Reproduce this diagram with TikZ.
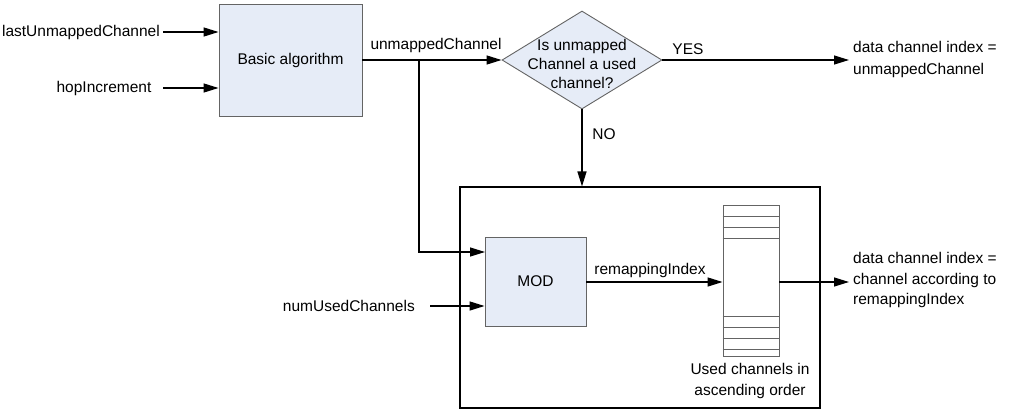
\documentclass[tikz,border=0pt]{standalone}
\usepackage{fontspec}
\setmainfont{Liberation Sans}
\usetikzlibrary{arrows.meta,shapes.geometric}
\definecolor{boxfill}{RGB}{230,236,247}
\definecolor{boxline}{RGB}{100,100,100}
\begin{document}
\begin{tikzpicture}[x=1pt,y=-1pt,
  every node/.style={font=\fontsize{15.5}{20.5}\selectfont, inner sep=0pt},
  blk/.style={draw=boxline, fill=boxfill, line width=0.9pt},
  conn/.style={line width=1.3pt, -{Triangle[length=15pt,width=9pt]}},
  lbl/.style={align=left, anchor=west}]
\useasboundingbox (0,0) rectangle (1021,413);
% Basic algorithm
\node[blk, minimum width=143pt, minimum height=112pt] (basic) at (290.5,60) {Basic algorithm};
\node[anchor=east] (last) at (160,32) {lastUnmappedChannel};
\node (hop) at (104,88) {hopIncrement};
\coordinate (hopend) at (163,88);
\draw[conn] (last.east) ++(3,0) coordinate (lastend) -- (lastend -| basic.west);
\draw[conn] (hopend) -- (hopend -| basic.west);
% decision
\node[blk, diamond, minimum width=160pt, minimum height=98pt, inner sep=0pt] (dec) at (582,60) {};
\node[align=center, font=\fontsize{15.5}{19}\selectfont] (dectext) at (582,64) {Is unmapped\\Channel a used\\channel?};
\draw[conn] (basic.east) -- (dec.west);
\node (um) at (436,45) {unmappedChannel};
% yes branch
\node[lbl, font=\fontsize{15.5}{22}\selectfont] (yes1) at (853,59) {data channel index =\\unmappedChannel};
\coordinate (yesend) at (849,60);
\draw[conn] (dec.east) -- (yesend);
\node (yes) at (688,49) {YES};
% outer box
\node[draw=black, line width=1.1pt, minimum width=360pt, minimum height=221pt] (outer) at (640,297.5) {};
\draw[conn] (dec.south) -- (dec.south |- outer.north);
\node (no) at (604,134) {NO};
% MOD
\node[blk, minimum width=101pt, minimum height=89pt] (mod) at (535.5,281.5) {MOD};
\coordinate (branch) at (419,60);
\coordinate (modin1) at (485,252);
\draw[conn] (branch) |- (modin1);
\node[anchor=east] (nuc) at (415,306) {numUsedChannels};
\coordinate (nucstart) at (430,306);
\draw[conn] (nucstart) -- (nucstart -| mod.west);
% table
\node[draw=boxline, fill=white, line width=0.9pt, minimum width=56pt, minimum height=151pt] (tab) at (751,280.5) {};
\foreach \yy in {216,227,238,316.5,327,338,349}{
  \draw[boxline, line width=0.9pt] (tab.west |- 0,\yy) -- (tab.east |- 0,\yy);
}
\draw[conn] (mod.east |- 0,282) -- (tab.west |- 0,282);
\node (ri) at (650,270) {remappingIndex};
\node[align=center] (used) at (750,381) {Used channels in\\ascending order};
\coordinate (out2) at (849,282);
\draw[conn] (tab.east |- out2) -- (out2);
\node[lbl] (res) at (853,280) {data channel index =\\channel according to\\remappingIndex};
\end{tikzpicture}
\end{document}
